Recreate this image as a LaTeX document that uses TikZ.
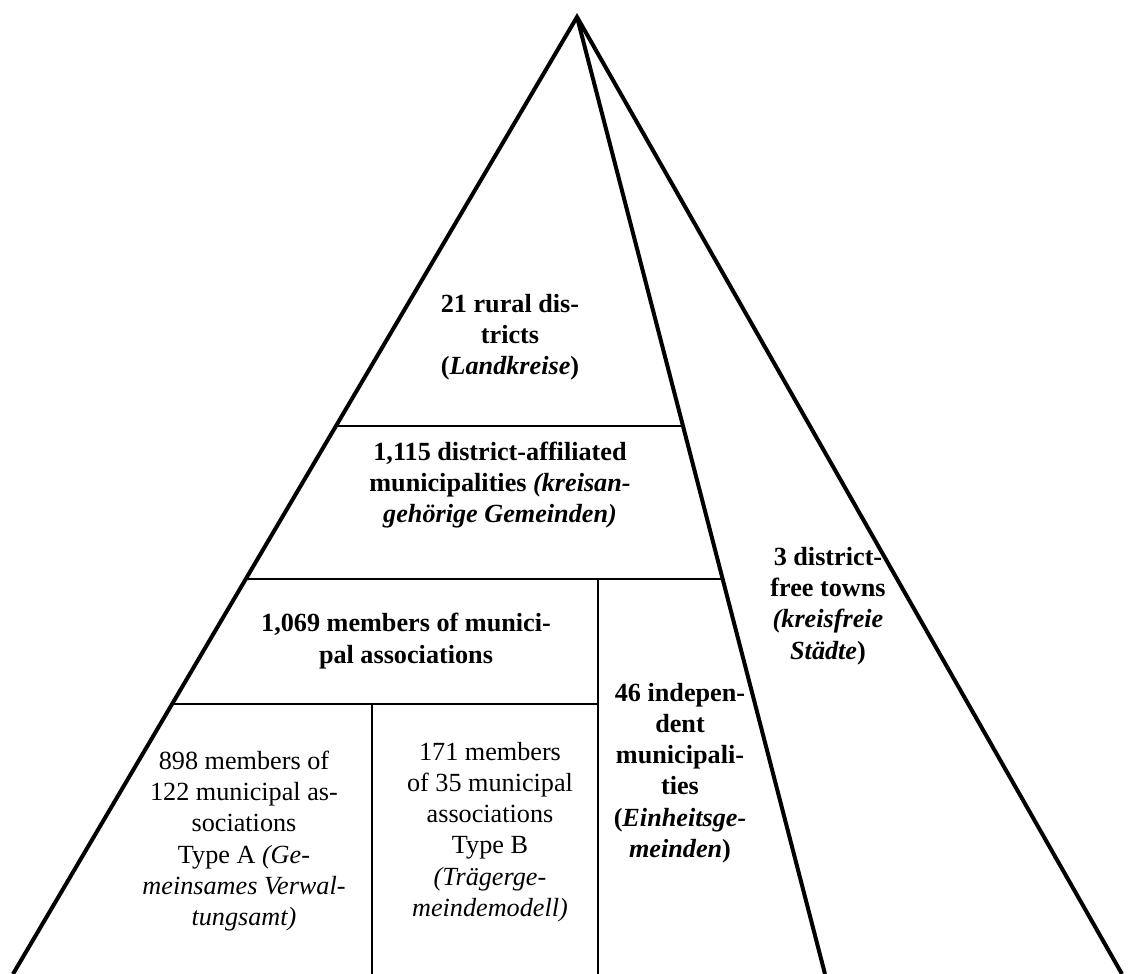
\documentclass[tikz,border=0pt]{standalone}
\usepackage{fontspec}
\setmainfont{Liberation Serif}
\usetikzlibrary{calc}

\begin{document}
\begin{tikzpicture}[x=0.5pt,y=-0.5pt]
  \tikzstyle{side line}=[line width=2pt]
  \tikzstyle{tier line}=[line width=0.9pt]
  \tikzstyle{tier text}=[align=center,inner sep=0pt,font=\fontsize{13.1}{15.6}\selectfont]
  \tikzstyle{bold text}=[tier text,font=\fontsize{13.1}{15.6}\selectfont\bfseries]

  \useasboundingbox (0,0) rectangle (1132,974);

  % Draw the three sides from the apex
  \coordinate (apex) at (577,17);
  \coordinate (L-bot) at (13,974);
  \coordinate (M-bot) at (825,974);
  \coordinate (R-bot) at (1122,974);
  \draw[side line] (L-bot) -- (apex) -- (R-bot);
  \draw[side line] (apex) -- (M-bot);

  % Points where the tiers meet the sides
  \foreach \name / \y in {1/426,2/579,3/704}
  {
    \coordinate (L-\name) at ($(apex)!{(\y-17)/957}!(L-bot)$);
    \coordinate (M-\name) at ($(apex)!{(\y-17)/957}!(M-bot)$);
  }
  \coordinate (split) at (598,579);
  \coordinate (typeB) at (372,704);

  % Draw the tiers
  \draw[tier line, line width=1.4pt] (L-1) -- (M-1);
  \draw[tier line] (L-2) -- (M-2);
  \draw[tier line] (L-3) -- (L-3 -| split);
  \draw[tier line] (split) -- (split |- L-bot);
  \draw[tier line] (typeB) -- (typeB |- L-bot);

  % Annotate the tiers
  \node[bold text] (districts) at (510,337)
    {21 rural dis-\\tricts\\(\textit{Landkreise})};
  \node[bold text] (affiliated) at (500,485)
    {1,115 district-affiliated\\municipalities \textit{(kreisan-}\\\textit{geh\"orige Gemeinden)}};
  \node[bold text] (members) at (406,641)
    {1,069 members of munici-\\pal associations};
  \node[tier text] (typeA) at (244,841)
    {898 members of\\122 municipal as-\\sociations\\Type A \textit{(Ge-}\\\textit{meinsames Verwal-}\\\textit{tungsamt)}};
  \node[tier text] (typeB text) at (490,832)
    {171 members\\of 35 municipal\\associations\\Type B\\\textit{(Tr\"agerge-}\\\textit{meindemodell)}};
  \node[bold text] (independent) at (680,773)
    {46 indepen-\\dent\\municipali-\\ties\\(\textit{Einheitsge-}\\\textit{meinden})};
  \node[bold text] (towns) at (828,606)
    {3 district-\\free towns\\\textit{(kreisfreie}\\\textit{St\"adte})};
\end{tikzpicture}
\end{document}
